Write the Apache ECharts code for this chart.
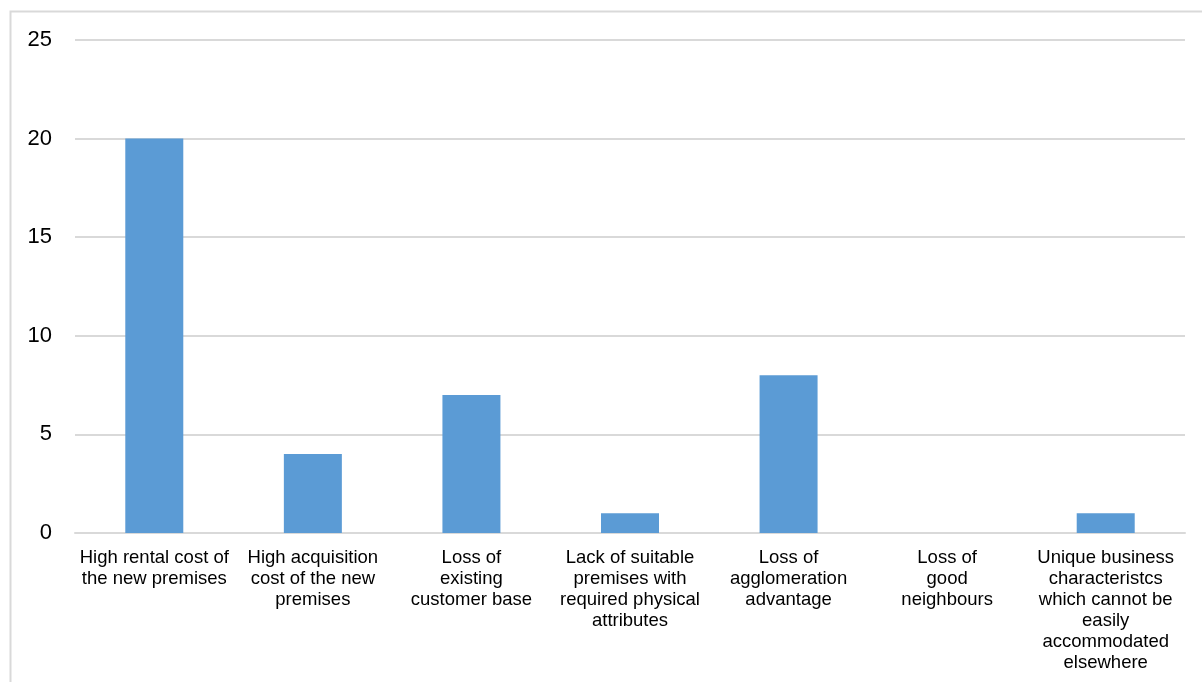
<!DOCTYPE html>
<html>
<head>
<meta charset="utf-8">
<script src="https://cdn.jsdelivr.net/npm/echarts@6/dist/echarts.min.js"></script>
<style>
  html, body { margin: 0; padding: 0; background: #fff; }
  #chart { width: 1202px; height: 682px; }
</style>
</head>
<body>
<div id="chart"></div>
<script>
// Reasons given for not relocating
const categories = [
  'High rental cost of\nthe new premises',
  'High acquisition\ncost of the new\npremises',
  'Loss of\nexisting\ncustomer base',
  'Lack of suitable\npremises with\nrequired physical\nattributes',
  'Loss of\nagglomeration\nadvantage',
  'Loss of\ngood\nneighbours',
  'Unique business\ncharacteristcs\nwhich cannot be\neasily\naccommodated\nelsewhere'
];
const counts = [20, 4, 7, 1, 8, 0, 1];
const yTicks = [0, 5, 10, 15, 20, 25];

const chart = echarts.init(document.getElementById('chart'));
chart.setOption({
  animation: false,
  backgroundColor: '#ffffff',
  graphic: [{
    type: 'rect',
    shape: { x: 10.5, y: 11.5, width: 1200, height: 700 },
    style: { fill: 'none', stroke: '#d9d9d9', lineWidth: 2 },
    silent: true
  }],
  grid: { left: 75, right: 17, top: 40, bottom: 149, containLabel: false },
  xAxis: {
    type: 'category',
    data: categories,
    axisLine: { show: true, lineStyle: { color: '#d9d9d9', width: 2 } },
    axisTick: { show: false },
    axisLabel: {
      interval: 0,
      margin: 14,
      color: '#000000',
      fontFamily: 'Liberation Sans, Arial, sans-serif',
      fontSize: 18.5,
      lineHeight: 21,
      align: 'center'
    }
  },
  yAxis: {
    type: 'value',
    min: yTicks[0],
    max: yTicks[yTicks.length - 1],
    interval: 5,
    axisLine: { show: false },
    axisTick: { show: false },
    splitLine: { lineStyle: { color: '#d9d9d9', width: 2 } },
    axisLabel: {
      margin: 23,
      color: '#000000',
      fontFamily: 'Liberation Sans, Arial, sans-serif',
      fontSize: 22
    }
  },
  series: [{
    type: 'bar',
    data: counts,
    barWidth: 58,
    itemStyle: { color: '#5b9bd5' }
  }]
});
</script>
</body>
</html>
